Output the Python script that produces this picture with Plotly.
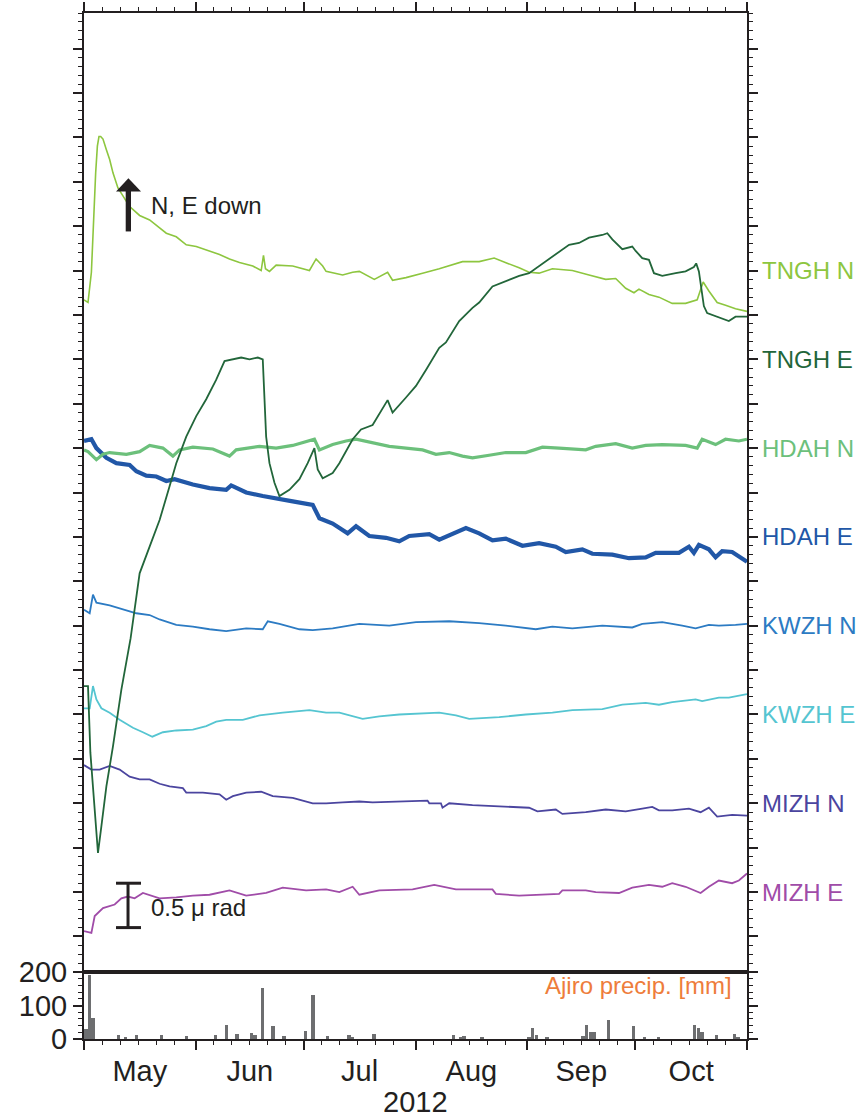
import pandas as pd
import plotly.graph_objects as go

START = "2012-05-01"
END = "2012-11-01"
month_names = ["May", "Jun", "Jul", "Aug", "Sep", "Oct"]

# (days since 2012-05-01, tilt in micro-radian, offset per station)
tngh_n = [(0,7.17),(1.11,7.14),(2.05,7.48),(2.49,7.93),(3.24,8.60),(3.71,8.90),(4.16,9.01),(4.63,9.01),(5.27,8.98),(6.21,8.86),
          (7.12,8.75),(8.04,8.60),(9.42,8.43),(10.81,8.34),(12.67,8.22),(15.44,8.12),(18.21,8.07),(20.98,7.98),(22.84,7.92),(25.61,7.88),
          (28.38,7.79),(31.15,7.77),(33.92,7.73),(37.61,7.68),(40.38,7.63),(43.15,7.59),(46.84,7.55),(49.17,7.50),(49.81,7.67),(50.36,7.52),
          (51.47,7.49),(53.33,7.56),(57.93,7.55),(62.56,7.50),(64.41,7.63),(66.24,7.55),(67.18,7.49),(71.78,7.45),(74.56,7.48),(76.41,7.49),
          (80.57,7.40),(84.26,7.48),(85.64,7.39),(89.36,7.42),(93.96,7.47),(98.59,7.52),(105.04,7.60),(109.67,7.60),(113.83,7.64),(117.07,7.59),
          (120.76,7.53),(123.53,7.48),(126.30,7.47),(129.99,7.52),(135.53,7.50),(140.16,7.45),(144.79,7.40),(147.56,7.41),(150.33,7.30),(152.63,7.25),
          (154.02,7.29),(156.79,7.23),(159.56,7.20),(163.25,7.13),(166.96,7.13),(170.18,7.17),(171.12,7.27),(171.84,7.37),(173.42,7.27),(175.72,7.14),
          (178.05,7.11),(180.82,7.07),(184,7.04)]
tngh_e = [(0,2.82),(1.11,2.82),(1.77,2.07),(2.49,1.65),(3.24,1.24),(3.88,0.94),(4.82,1.24),(6.21,1.69),(8.04,2.14),(10.37,2.78),
          (12.94,3.36),(15.44,4.09),(18.21,4.39),(20.98,4.69),(23.75,5.07),(25.61,5.33),(28.38,5.63),(31.15,5.86),(33.92,6.05),(36.70,6.27),
          (39.00,6.48),(41.30,6.50),(43.63,6.52),(45.93,6.50),(48.23,6.52),(49.61,6.50),(50.55,5.63),(51.47,5.33),(52.86,5.11),(54.24,4.96),
          (57.01,5.03),(59.78,5.15),(62.08,5.33),(63.94,5.50),(64.86,5.26),(66.24,5.16),(69.01,5.22),(70.87,5.33),(74.56,5.60),(76.88,5.71),
          (80.10,5.76),(84.26,6.04),(85.64,5.90),(89.36,6.07),(92.13,6.20),(94.90,6.38),(98.59,6.63),(100.44,6.69),(104.13,6.93),(107.82,7.08),
          (109.67,7.14),(113.36,7.32),(117.07,7.38),(120.76,7.44),(123.53,7.47),(126.30,7.55),(129.99,7.66),(134.62,7.79),(137.39,7.81),(140.16,7.87),
          (143.85,7.90),(145.23,7.92),(146.62,7.85),(149.39,7.74),(152.16,7.77),(153.10,7.72),(154.93,7.64),(156.79,7.62),(158.18,7.47),(160.48,7.44),
          (164.19,7.47),(166.96,7.49),(169.26,7.54),(169.90,7.58),(170.65,7.49),(171.40,7.30),(172.03,7.10),(172.95,7.02),(176.19,6.97),(178.96,6.93),
          (180.82,6.98),(184,6.98)]
hdah_n = [(0,5.48),(1.11,5.46),(3.44,5.37),(5.27,5.43),(7.12,5.45),(11.75,5.43),(15.44,5.46),(18.21,5.53),(21.90,5.50),(24.67,5.41),
          (26.52,5.48),(30.21,5.51),(35.75,5.49),(40.38,5.41),(42.24,5.48),(48.70,5.52),(53.33,5.50),(57.93,5.53),(63.94,5.60),(65.33,5.48),
          (69.01,5.54),(72.73,5.58),(75.50,5.60),(80.10,5.56),(84.73,5.52),(89.36,5.50),(93.96,5.48),(97.67,5.43),(101.36,5.45),(105.04,5.41),
          (107.82,5.39),(112.44,5.42),(117.07,5.45),(122.62,5.45),(127.22,5.51),(131.85,5.50),(135.53,5.49),(139.25,5.48),(142.02,5.52),(147.56,5.55),
          (152.16,5.50),(155.88,5.53),(160.48,5.54),(166.96,5.53),(170.18,5.50),(171.56,5.60),(175.28,5.54),(178.05,5.60),(181.74,5.58),(184,5.60)]
hdah_e = [(0,5.58),(2.05,5.60),(3.44,5.50),(6.21,5.39),(8.98,5.33),(12.67,5.31),(14.52,5.24),(17.29,5.19),(20.07,5.18),(22.84,5.13),
          (25.14,5.15),(30.21,5.09),(34.84,5.05),(39.47,5.03),(40.85,5.08),(45.01,5.00),(49.61,4.96),(54.24,4.92),(57.93,4.90),(63.47,4.86),
          (65.33,4.71),(69.01,4.65),(70.87,4.60),(73.17,4.54),(75.50,4.62),(79.18,4.51),(83.81,4.49),(87.50,4.45),(90.27,4.51),(95.82,4.53),
          (98.59,4.47),(102.27,4.53),(105.99,4.60),(109.67,4.54),(113.36,4.46),(117.07,4.48),(121.67,4.40),(126.30,4.43),(130.93,4.39),(133.70,4.33),
          (138.30,4.36),(141.08,4.31),(146.62,4.30),(151.25,4.26),(155.88,4.27),(158.65,4.32),(165.11,4.32),(167.88,4.39),(169.26,4.32),(170.65,4.41),
          (173.42,4.36),(175.28,4.27),(177.11,4.34),(179.88,4.33),(184,4.22)]
kwzh_n = [(0,3.68),(1.58,3.64),(2.49,3.85),(3.44,3.76),(7.12,3.73),(11.75,3.67),(14.52,3.64),(18.21,3.62),(20.98,3.57),(25.61,3.51),
          (30.21,3.49),(34.84,3.46),(39.47,3.44),(45.01,3.47),(49.61,3.46),(51.00,3.55),(54.24,3.52),(59.78,3.46),(63.47,3.45),(69.01,3.47),
          (76.41,3.52),(84.73,3.50),(92.13,3.54),(101.36,3.55),(109.67,3.53),(117.07,3.50),(125.39,3.46),(129.99,3.49),(135.53,3.47),(143.85,3.50),
          (152.16,3.48),(154.93,3.52),(160.48,3.54),(166.02,3.50),(169.73,3.47),(173.42,3.51),(176.19,3.50),(180.82,3.51),(184,3.52)]
kwzh_e = [(0,2.57),(1.58,2.57),(2.49,2.82),(3.44,2.67),(4.82,2.57),(7.12,2.52),(9.89,2.44),(13.58,2.35),(16.35,2.30),(18.96,2.25),
          (21.90,2.30),(25.61,2.32),(30.21,2.33),(33.92,2.37),(36.70,2.42),(39.47,2.44),(44.07,2.44),(48.70,2.49),(55.16,2.52),(62.56,2.55),
          (67.18,2.52),(70.87,2.52),(77.33,2.45),(81.95,2.48),(87.50,2.50),(98.59,2.52),(103.22,2.49),(106.90,2.45),(115.22,2.47),(122.62,2.50),
          (129.99,2.52),(135.53,2.55),(143.85,2.56),(149.39,2.61),(155.88,2.63),(159.56,2.61),(163.25,2.64),(169.73,2.67),(171.56,2.65),(176.19,2.69),
          (178.96,2.69),(184,2.73)]
mizh_n = [(0,1.93),(2.05,1.88),(4.35,1.88),(7.12,1.92),(9.89,1.88),(12.67,1.80),(15.44,1.77),(18.21,1.77),(20.98,1.72),(23.75,1.69),
          (27.44,1.67),(28.38,1.62),(32.98,1.62),(37.61,1.60),(39.47,1.54),(41.30,1.58),(45.01,1.62),(49.17,1.63),(52.38,1.58),(57.93,1.56),
          (63.47,1.50),(67.18,1.50),(71.78,1.51),(76.41,1.52),(80.10,1.51),(89.36,1.52),(95.34,1.53),(95.82,1.50),(99.06,1.50),(99.50,1.45),
          (101.36,1.50),(107.82,1.48),(117.07,1.46),(123.53,1.45),(125.83,1.41),(130.93,1.43),(132.76,1.38),(139.25,1.40),(144.79,1.43),(150.33,1.41),
          (154.93,1.44),(157.71,1.46),(159.56,1.42),(163.25,1.42),(167.88,1.44),(171.12,1.40),(173.42,1.45),(175.72,1.35),(179.88,1.37),(184,1.36)]
mizh_e = [(0,0.06),(2.05,0.04),(2.97,0.23),(5.27,0.32),(8.51,0.36),(10.37,0.43),(12.20,0.45),(14.05,0.43),(16.35,0.49),(20.98,0.43),
          (25.61,0.44),(30.21,0.46),(34.84,0.47),(40.38,0.52),(45.01,0.46),(50.55,0.49),(55.16,0.55),(61.64,0.52),(67.18,0.53),(70.87,0.50),
          (74.56,0.56),(76.41,0.47),(81.95,0.52),(91.19,0.53),(97.20,0.58),(103.22,0.53),(113.36,0.53),(114.30,0.48),(120.76,0.46),(126.30,0.47),
          (131.85,0.48),(132.76,0.52),(139.25,0.52),(142.02,0.50),(148.48,0.49),(152.16,0.55),(156.79,0.58),(160.48,0.56),(163.25,0.60),(166.96,0.56),
          (171.12,0.49),(173.42,0.56),(176.19,0.63),(179.88,0.60),(181.74,0.63),(184,0.71)]

# daily precipitation at Ajiro: (days since 2012-05-01, mm)
precip = [(0,29),(1,191),(2,62),(9,11),(11,5),(14,11),(21,11),(28,8),(36,11),(39,41),(42,14),(46,17),(47,11),(49,152),(52,38),
          (55,8),(61,23),(63,132),(67,8),(73,11),(74,6),(80,14),(102,11),(104,5),(105,10),(110,3),(123,3),(124,32),(125,11),(128,3),
          (138,8),(139,41),(140,21),(141,21),(145,56),(152,38),(155,5),(159,5),(169,41),(170,33),(171,21),(175,11),(180,14),(181,4)]

series_names = ["TNGH N", "TNGH E", "HDAH N", "HDAH E", "KWZH N", "KWZH E", "MIZH N", "MIZH E"]
series_data = [tngh_n, tngh_e, hdah_n, hdah_e, kwzh_n, kwzh_e, mizh_n, mizh_e]
series_colors = ["#8DC63F", "#22663A", "#6CC07B", "#2157A7", "#2C7BC3", "#55C5D1", "#4B459F", "#A04CA8"]
series_widths = [1.6, 1.8, 3.2, 4.2, 1.8, 1.8, 1.8, 1.8]
label_levels = [7.5, 6.5, 5.5, 4.5, 3.5, 2.5, 1.5, 0.5]

t0 = pd.Timestamp(START)
def to_dates(days):
    return [t0 + pd.Timedelta(days=float(d)) for d in days]

INK = "#231F20"
FONT = "Liberation Sans, Arial, Helvetica, sans-serif"

fig = go.Figure()

draw_order = [3, 2, 4, 5, 6, 7, 0, 1]
for i in draw_order:
    d = series_data[i]
    fig.add_trace(go.Scatter(
        x=to_dates([p[0] for p in d]), y=[p[1] for p in d],
        mode="lines", line=dict(color=series_colors[i], width=series_widths[i]),
        xaxis="x2", yaxis="y2", hoverinfo="skip", name=series_names[i]))

fig.add_trace(go.Bar(
    x=[t0 + pd.Timedelta(days=p[0] + 0.5) for p in precip], y=[p[1] for p in precip],
    width=86400000 * 0.95, marker=dict(color="#6D6E70", line=dict(width=0)),
    xaxis="x", yaxis="y", name="Ajiro precip."))

# minor ticks every 5 days within each month
months = pd.date_range(START, periods=6, freq="MS")
minor_vals = [m + pd.Timedelta(days=k) for m in months for k in (5, 10, 15, 20, 25)]

minor_x = dict(tickvals=minor_vals, ticks="outside", ticklen=4, tickwidth=1.2, tickcolor=INK, showgrid=False)
common_x = dict(type="date", range=[START, END], dtick="M1", tick0=START, ticks="outside",
                ticklen=9, tickwidth=1.5, tickcolor=INK, showline=True, linecolor=INK,
                linewidth=2, mirror=True, showgrid=False, zeroline=False, minor=minor_x,
                automargin=False)

PREC_TOP = 0.0653
fig.update_layout(
    width=861, height=1119,
    margin=dict(l=84, r=114, t=13, b=80, autoexpand=False),
    paper_bgcolor="white", plot_bgcolor="white",
    showlegend=False, bargap=0,
    font=dict(family=FONT, color=INK),
    xaxis=dict(domain=[0, 1], anchor="y", tickformat="%b", ticklabelmode="period",
               ticklabelstandoff=-4,
               tickfont=dict(size=29, color=INK), **common_x),
    yaxis=dict(domain=[0, PREC_TOP], anchor="x", range=[0, 200], tickvals=[0, 100, 200],
               ticks="outside", ticklen=9, tickwidth=1.5, tickcolor=INK, showline=True,
               linecolor=INK, linewidth=2, mirror="ticks", showgrid=False, zeroline=False,
               tickfont=dict(size=29, color=INK), automargin=False,
               minor=dict(dtick=20, tick0=0, ticks="outside", ticklen=4, tickwidth=1.2,
                          tickcolor=INK, showgrid=False)),
    xaxis2=dict(domain=[0, 1], anchor="y2", matches="x", side="top", showticklabels=False, **common_x),
    yaxis2=dict(domain=[PREC_TOP, 1], anchor="x2", range=[-0.4, 10.4], dtick=0.5, tick0=0,
                showticklabels=False, ticks="outside", ticklen=9, tickwidth=1.5, tickcolor=INK,
                showline=True, linecolor=INK, linewidth=2, mirror="ticks", showgrid=False,
                zeroline=False, automargin=False,
                minor=dict(dtick=0.1, tick0=0, ticks="outside", ticklen=4, tickwidth=1.2,
                           tickcolor=INK, showgrid=False)),
)

annotations = []
for name, col, lvl in zip(series_names, series_colors, label_levels):
    annotations.append(dict(text=name, xref="paper", yref="y2", x=1.0195, y=lvl,
                            xanchor="left", yanchor="middle", showarrow=False,
                            font=dict(size=24, color=col, family=FONT)))
annotations += [
    dict(text="N, E down", xref="paper", yref="y2", x=0.098, y=8.23, xanchor="left",
         yanchor="middle", showarrow=False, font=dict(size=24, color=INK)),
    dict(text="0.5 \u03bc rad", xref="paper", yref="y2", x=0.098, y=0.33, xanchor="left",
         yanchor="middle", showarrow=False, font=dict(size=24, color=INK)),
    dict(text="Ajiro precip. [mm]", xref="paper", yref="y", x=0.981, y=161, xanchor="right",
         yanchor="middle", showarrow=False, font=dict(size=24, color="#EE7D3B")),
    dict(text="2012", xref="paper", yref="paper", x=0.5, y=-0.0614, xanchor="center",
         yanchor="middle", showarrow=False, font=dict(size=29, color=INK)),
]
fig.update_layout(annotations=annotations)

# scale bar (0.5 micro-radian) and direction arrow
bar_x, cap_l, cap_r = 0.0664, 0.0483, 0.0860
bar_lo, bar_hi = 0.1, 0.6
shapes = [
    dict(type="line", xref="paper", yref="y2", x0=bar_x, x1=bar_x, y0=bar_lo, y1=bar_hi, line=dict(color=INK, width=3)),
    dict(type="line", xref="paper", yref="y2", x0=cap_l, x1=cap_r, y0=bar_lo, y1=bar_lo, line=dict(color=INK, width=3)),
    dict(type="line", xref="paper", yref="y2", x0=cap_l, x1=cap_r, y0=bar_hi, y1=bar_hi, line=dict(color=INK, width=3)),
    dict(type="rect", xref="paper", yref="y2", x0=0.0629, x1=0.0709, y0=7.94, y1=8.40, fillcolor=INK, line=dict(width=0)),
    dict(type="path", xref="paper", yref="y2", path="M 0.0483 8.39 L 0.0860 8.39 L 0.0670 8.54 Z", fillcolor=INK, line=dict(width=0)),
]
fig.update_layout(shapes=shapes)

fig.write_html("out.html")
